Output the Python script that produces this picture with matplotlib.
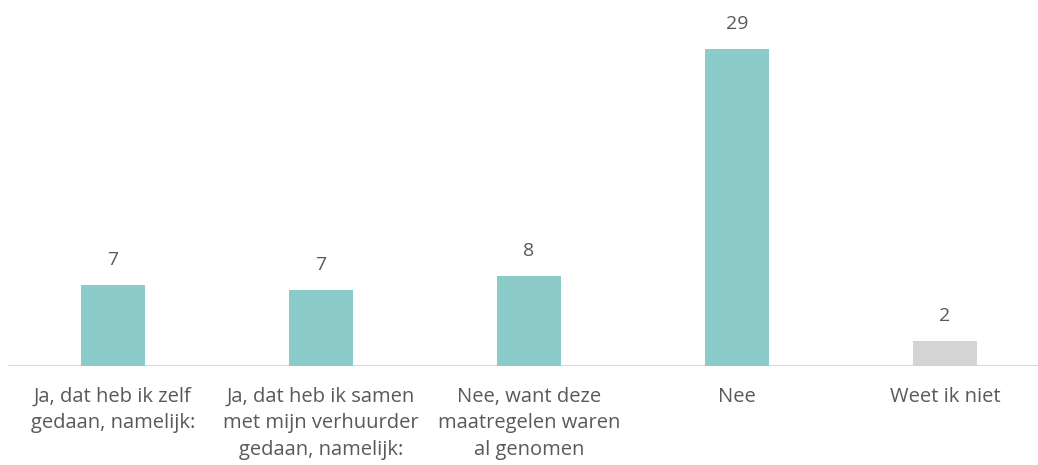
import matplotlib.pyplot as plt
import numpy as np

categories = ['Ja, dat heb ik zelf\ngedaan, namelijk:',
              'Ja, dat heb ik samen\nmet mijn verhuurder\ngedaan, namelijk:',
              'Nee, want deze\nmaatregelen waren\nal genomen',
              'Nee',
              'Weet ik niet']
values = [7.4, 6.95, 8.2, 29.0, 2.3]
value_labels = ['7', '7', '8', '29', '2']
bar_colors = ['#8ccbc8', '#8ccbc8', '#8ccbc8', '#8ccbc8', '#d4d4d4']

plt.rcParams['font.family'] = ['Open Sans', 'DejaVu Sans']
text_color = '#595959'

fig = plt.figure(figsize=(10.38, 4.65), dpi=100)
ax = fig.add_axes([0.0, 0.213, 1.0, 0.787])

x = np.arange(len(categories))
bars = ax.bar(x, values, width=0.31, color=bar_colors, zorder=2)

for b, lab in zip(bars, value_labels):
    ax.text(b.get_x() + b.get_width() / 2, b.get_height() + 2.3, lab,
            ha='center', va='center', fontsize=14, color=text_color)

for i, cat in enumerate(categories):
    ax.text(i, -1.9, cat, ha='center', va='top', fontsize=14.5,
            color=text_color, linespacing=1.45)

ax.set_xlim(-0.543, 4.447)
ax.set_ylim(0, 33.5)
ax.axhline(0, xmin=0.009, xmax=1.0, color='#d9d9d9', linewidth=1.5, zorder=1)
for s in ax.spines.values():
    s.set_visible(False)
ax.set_xticks([])
ax.set_yticks([])

fig.savefig('out.png', dpi=100)
